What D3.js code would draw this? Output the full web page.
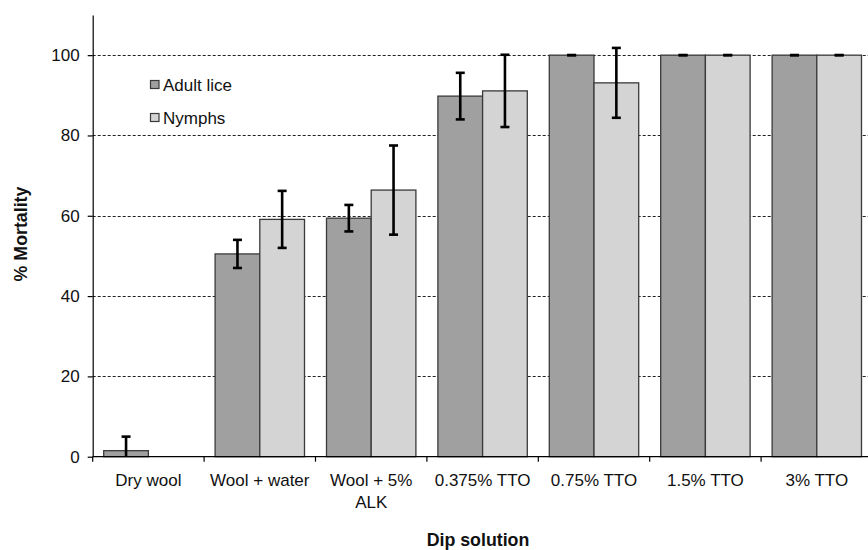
<!DOCTYPE html>
<html lang="en">
<head>
  <meta charset="UTF-8">
  <title>% Mortality by dip solution</title>
  <script src="https://d3js.org/d3.v7.min.js"></script>
  <style>
    body {
      margin: 0;
      background-color: #ffffff;
    }
    svg {
      display: block;
      font-family: Arial, "Liberation Sans", sans-serif;
    }
  </style>
</head>
<body>
  <svg id="chart" width="868" height="550"></svg>

  <script>
    const categories = ["Dry wool", "Wool + water", "Wool + 5%\nALK", "0.375% TTO", "0.75% TTO", "1.5% TTO", "3% TTO"];
    const seriesNames = ["Adult lice", "Nymphs"];
    const adultValues = [1.5, 50.5, 59.4, 89.8, 100, 100, 100];
    const adultErrors = [3.5, 3.5, 3.3, 5.8, 0, 0, 0];
    const nymphValues = [0, 59.1, 66.4, 91.1, 93.1, 100, 100];
    const nymphErrors = [0, 7.1, 11.1, 9.0, 8.7, 0, 0];
    const yTicks = [0, 20, 40, 60, 80, 100];

    const colors = ["#a0a0a0", "#d4d4d4"];

    const svg = d3.select("#chart");
    const left = 92.7;
    const bandW = 111.4;

    const x = d3.scaleBand()
      .domain(categories)
      .range([left, left + bandW * categories.length])
      .paddingInner(0)
      .paddingOuter(0);

    const y = d3.scaleLinear().domain([0, 110]).range([456.7, 15]);

    const xSub = d3.scaleBand()
      .domain(seriesNames)
      .range([11, bandW - 11]);

    // gridlines (dashed) behind bars
    svg.append("g")
      .selectAll("line")
      .data(yTicks.filter(d => d > 0))
      .enter()
      .append("line")
      .attr("x1", left)
      .attr("x2", 868)
      .attr("y1", d => Math.round(y(d)) + 0.5)
      .attr("y2", d => Math.round(y(d)) + 0.5)
      .attr("stroke", "#222")
      .attr("stroke-width", 1)
      .attr("stroke-dasharray", "3,2");

    const rows = categories.map((c, i) => [
      { cat: c, s: seriesNames[0], v: adultValues[i], e: adultErrors[i], k: 0 },
      { cat: c, s: seriesNames[1], v: nymphValues[i], e: nymphErrors[i], k: 1 }
    ]).flat().filter(d => !(d.v === 0 && d.e === 0));

    // bars
    svg.append("g")
      .selectAll("rect")
      .data(rows)
      .enter()
      .append("rect")
      .attr("x", d => x(d.cat) + xSub(d.s))
      .attr("y", d => y(d.v))
      .attr("width", xSub.bandwidth())
      .attr("height", d => y(0) - y(d.v))
      .attr("fill", d => colors[d.k])
      .attr("stroke", "#3a3a3a")
      .attr("stroke-width", 1.3);

    // error bars
    const err = svg.append("g").attr("stroke", "#000").attr("stroke-width", 2.6);
    rows.forEach(d => {
      const cx = x(d.cat) + xSub(d.s) + xSub.bandwidth() / 2;
      const hi = y(d.v + d.e);
      const lo = y(Math.max(0, d.v - d.e));
      err.append("line").attr("x1", cx).attr("x2", cx).attr("y1", hi).attr("y2", lo);
      err.append("line").attr("x1", cx - 4.5).attr("x2", cx + 4.5).attr("y1", hi).attr("y2", hi);
      if (d.v - d.e > 0) {
        err.append("line").attr("x1", cx - 4.5).attr("x2", cx + 4.5).attr("y1", lo).attr("y2", lo);
      }
    });

    // y axis
    const yAxis = svg.append("g")
      .attr("transform", `translate(${left},0)`)
      .call(d3.axisLeft(y).tickValues(yTicks).tickSize(5).tickPadding(8).tickSizeOuter(0));
    yAxis.select(".domain").attr("stroke", "#000").attr("stroke-width", 1.2);
    yAxis.selectAll(".tick line").attr("stroke", "#000").attr("stroke-width", 1.2);
    yAxis.selectAll("text").attr("font-size", 17).attr("fill", "#111");

    // x axis
    const xAxis = svg.append("g")
      .attr("transform", `translate(0,${y(0)})`);
    xAxis.append("line")
      .attr("x1", left).attr("x2", 868)
      .attr("stroke", "#000").attr("stroke-width", 1.2);
    xAxis.selectAll(".xtick")
      .data(categories.map(c => x(c)).concat([x.range()[1]]))
      .enter()
      .append("line")
      .attr("x1", d => d).attr("x2", d => d)
      .attr("y1", 0).attr("y2", 5)
      .attr("stroke", "#000").attr("stroke-width", 1.2);
    xAxis.selectAll(".xlabel")
      .data(categories)
      .enter()
      .append("text")
      .attr("text-anchor", "middle")
      .attr("font-size", 17)
      .attr("fill", "#111")
      .each(function (c) {
        const t = d3.select(this);
        c.split("\n").forEach((line, i) => {
          t.append("tspan")
            .attr("x", x(c) + bandW / 2)
            .attr("y", 29.5 + i * 22)
            .text(line);
        });
      });

    // axis titles
    svg.append("text")
      .attr("x", 478)
      .attr("y", 546)
      .attr("text-anchor", "middle")
      .attr("font-size", 17.8)
      .attr("font-weight", "bold")
      .attr("fill", "#111")
      .text("Dip solution");

    svg.append("text")
      .attr("transform", "translate(26.5,234) rotate(-90)")
      .attr("text-anchor", "middle")
      .attr("font-size", 17.8)
      .attr("font-weight", "bold")
      .attr("fill", "#111")
      .text("% Mortality");

    // legend
    const legend = svg.append("g");
    seriesNames.forEach((s, i) => {
      legend.append("rect")
        .attr("x", 150.5).attr("y", 80.5 + i * 33)
        .attr("width", 8.5).attr("height", 8)
        .attr("fill", colors[i])
        .attr("stroke", "#3a3a3a").attr("stroke-width", 1.2);
      legend.append("text")
        .attr("x", 163).attr("y", 90.5 + i * 33)
        .attr("font-size", 17)
        .attr("fill", "#111")
        .text(s);
    });
  </script>
</body>
</html>
